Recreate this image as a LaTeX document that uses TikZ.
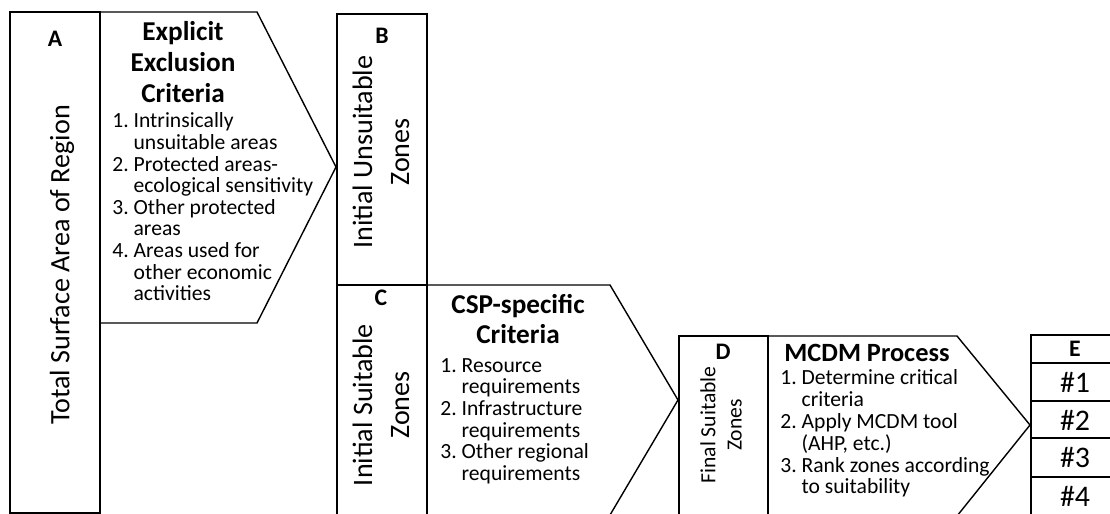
\documentclass[tikz,border=0pt]{standalone}
\usepackage{fontspec}
\setmainfont{Carlito}
\tikzset{
  outline/.style={draw,line width=0.8pt},
  letter/.style={font=\fontsize{13.5}{15}\selectfont\bfseries},
  heading/.style={font=\fontsize{15.5}{17.6}\selectfont\bfseries,align=center},
  items/.style={font=\fontsize{12.3}{12.3}\selectfont,anchor=west,inner sep=0pt},
  zone/.style={rotate=90,align=center},
  rank/.style={font=\fontsize{17}{18}\selectfont},
}
\begin{document}
\begin{tikzpicture}[x=0.02cm,y=-0.02cm]
  \useasboundingbox (0,0) rectangle (1110,514);

  \draw[outline] (10,12) rectangle (100,513);
  \draw[outline] (100,12) -- (257,12) -- (336,167) -- (257,323) -- (100,323);
  \draw[outline] (337,14) rectangle (427,285);
  \draw[outline] (337,285) rectangle (427,530);
  \draw[outline] (427,285) -- (610,285) -- (678,400) -- (610,515) -- (427,515);
  \draw[outline] (679,336) rectangle (768,530);
  \draw[outline] (768,336) -- (957,336) -- (1030,425) -- (957,516) -- (768,516);
  \draw[outline] (1031,335) rectangle (1125,530);
  \foreach \y in {363,401,438,477}
    \draw[outline] (1031,\y) -- (1125,\y);

  \node[letter] (a) at (55,39) {A};
  \node[zone,font=\fontsize{16}{21}\selectfont] (total) at (62,265) {Total Surface Area of Region};
  \node[heading] (exclusion) at (183,62) {Explicit\\Exclusion\\Criteria};
  \node[items] (exlist) at (112,210) {\begin{tabular}{@{}l@{~}l@{}}
    1. & Intrinsically\\ & unsuitable areas\\
    2. & Protected areas-\\ & ecological sensitivity\\
    3. & Other protected\\ & areas\\
    4. & Areas used for\\ & other economic\\ & activities
  \end{tabular}};

  \node[letter] (b) at (382,36) {B};
  \node[zone,font=\fontsize{16}{21}\selectfont] (unsuitable) at (381,152) {Initial Unsuitable\\Zones};
  \node[letter] (c) at (381,298) {C};
  \node[zone,font=\fontsize{16}{21}\selectfont] (suitable) at (381,405) {Initial Suitable\\Zones};
  \node[heading] (csp) at (518,319) {CSP-specific\\Criteria};
  \node[items] (csplist) at (440,422) {\begin{tabular}{@{}l@{~}l@{}}
    1. & Resource\\ & requirements\\
    2. & Infrastructure\\ & requirements\\
    3. & Other regional\\ & requirements
  \end{tabular}};

  \node[letter] (d) at (723,352) {D};
  \node[zone,font=\fontsize{12.3}{15}\selectfont] (final) at (721,425) {Final Suitable\\Zones};
  \node[heading,font=\fontsize{15}{17.6}\selectfont\bfseries,inner sep=1pt] (mcdm) at (867,353) {MCDM Process};
  \node[items] (mcdmlist) at (780,435) {\begin{tabular}{@{}l@{~}l@{}}
    1. & Determine critical\\ & criteria\\
    2. & Apply MCDM tool\\ & (AHP, etc.)\\
    3. & Rank zones according\\ & to suitability
  \end{tabular}};

  \node[letter] (e) at (1075,349) {E};
  \node[rank] (r1) at (1075,382) {\#1};
  \node[rank] (r2) at (1075,420) {\#2};
  \node[rank] (r3) at (1075,458) {\#3};
  \node[rank] (r4) at (1075,496) {\#4};
\end{tikzpicture}
\end{document}
